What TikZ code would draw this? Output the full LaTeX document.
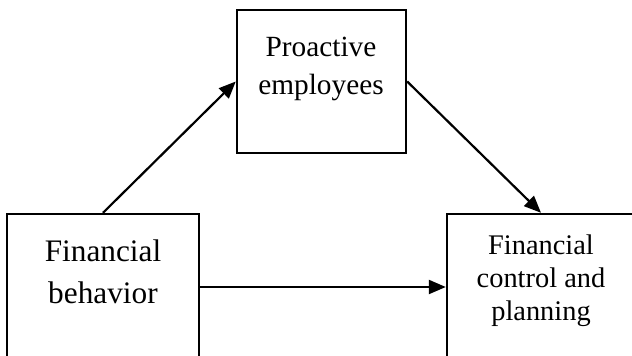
\documentclass[tikz,border=0pt]{standalone}
\usepackage{fontspec}
\setmainfont{Liberation Serif}
\usetikzlibrary{arrows.meta}
\begin{document}
\begin{tikzpicture}[x=1pt,y=1pt,
  box/.style={draw=black, line width=2.4pt, rectangle, inner sep=0pt},
  lbl/.style={anchor=north, align=center, inner sep=0pt, text=black},
  conn/.style={draw=black, line width=2.2pt, -{Triangle[length=17pt,width=14pt]}}]
\useasboundingbox (0,0) rectangle (632,356);
\clip (0,0) rectangle (632,356);
% boxes
\node[box, minimum width=192pt, minimum height=146pt] (fb) at (103,69) {};
\node[box, minimum width=169pt, minimum height=143pt] (pe) at (321.5,274.5) {};
\node[box, minimum width=188pt, minimum height=146pt] (fc) at (541,69) {};
% texts
\node[lbl, font=\fontsize{31.3}{42}\selectfont] (fbt) at (103,116.2) {Financial\\behavior};
\node[lbl, font=\fontsize{29.3}{38}\selectfont] (pet) at (321,319) {Proactive\\employees};
\node[lbl, font=\fontsize{28.4}{33}\selectfont] (fct) at (541,121.4) {Financial\\control and\\planning};
% connectors
\draw[conn] (fb.north) -- (pe.west);
\draw[conn] (pe.east) -- (fc.north);
\draw[conn] (fb.east) -- (fc.west);
\end{tikzpicture}
\end{document}
